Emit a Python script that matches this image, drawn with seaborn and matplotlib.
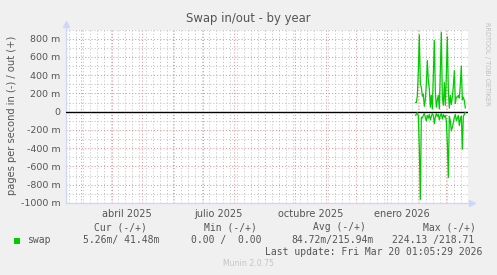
import numpy as np
import pandas as pd
import matplotlib
matplotlib.use("Agg")
import matplotlib.pyplot as plt
import matplotlib.dates as mdates
from matplotlib.ticker import MultipleLocator, FuncFormatter, NullLocator
from matplotlib.patches import Rectangle
import seaborn as sns

# ---------------- data ----------------
title = "Swap in/out - by year"
ylabel = "pages per second in (-) / out (+)"
series_name = "swap"
start_date = "2026-01-29"          # first daily sample
# swap out (plotted positive), pages/s
swap_out = [0.10, 0.10, 0.17, 0.45, 0.84, 0.30, 0.27, 0.17, 0.19, 0.06,
            0.13, 0.30, 0.56, 0.34, 0.25, 0.05, 0.18, 0.03, 0.40, 0.78,
            0.22, 0.05, 0.13, 0.18, 0.03, 0.45, 0.87, 0.15, 0.07, 0.32,
            0.07, 0.40, 0.82, 0.23, 0.04, 0.18, 0.08, 0.16, 0.28, 0.45,
            0.09, 0.16, 0.16, 0.18, 0.15, 0.30, 0.50, 0.13, 0.16, 0.12,
            0.04]
# swap in (plotted negative), pages/s
swap_in = [0.04, 0.03, 0.01, 0.05, 0.40, 0.96, 0.06, 0.07, 0.04, 0.02,
           0.06, 0.10, 0.04, 0.07, 0.03, 0.09, 0.05, 0.02, 0.04, 0.13,
           0.06, 0.02, 0.05, 0.03, 0.09, 0.04, 0.02, 0.08, 0.03, 0.06,
           0.04, 0.10, 0.35, 0.72, 0.05, 0.10, 0.21, 0.17, 0.12, 0.06,
           0.03, 0.10, 0.07, 0.04, 0.15, 0.08, 0.05, 0.41, 0.05, 0.03,
           0.005]
month_names = ["enero", "febrero", "marzo", "abril", "mayo", "junio", "julio",
               "agosto", "septiembre", "octubre", "noviembre", "diciembre"]
legend_headers = ["Cur (-/+)", "Min (-/+)", "Avg (-/+)", "Max (-/+)"]
legend_values = ["5.26m/ 41.48m", "0.00 /  0.00", "84.72m/215.94m", "224.13 /218.71"]
last_update = "Last update: Fri Mar 20 01:05:29 2026"
footer = "Munin 2.0.75"
watermark = "RRDTOOL / TOBI OETIKER"
x_start = "2025-02-13 17:00"
x_end = "2026-03-22 16:00"
y_range = (-1.0, 0.9)

# ---------------- style ----------------
W, H = 497, 275
BG = "#F0F0F0"
TXT = "#555555"
GREEN = "#00CC00"
MGRID = "#E89494"
GRID = "#C4C4C4"
AXIS = "#CFD6F8"

sns.set_theme(style="white")
plt.rcParams["font.family"] = ["DejaVu Sans"]

fig = plt.figure(figsize=(W / 100, H / 100), dpi=100, facecolor=BG)
ax = fig.add_axes([66 / W, 1 - 203 / H, 402 / W, 173.4 / H])
ax.set_facecolor("white")

dates = pd.date_range(start_date, periods=len(swap_out), freq="D")
df = pd.DataFrame({
    "date": list(dates) + list(dates),
    "value": list(swap_out) + [-v for v in swap_in],
    "series": ["out"] * len(swap_out) + ["in"] * len(swap_in),
})
sns.lineplot(data=df, x="date", y="value", hue="series",
             palette={"out": GREEN, "in": GREEN}, legend=False,
             linewidth=0.9, estimator=None, ax=ax, zorder=4)

ax.set_xlim(pd.Timestamp(x_start), pd.Timestamp(x_end))
ax.set_ylim(*y_range)
ax.set_xlabel("")
ax.set_ylabel("")

# grid
ax.yaxis.set_major_locator(MultipleLocator(0.2))
ax.yaxis.set_minor_locator(MultipleLocator(0.1))
ax.xaxis.set_major_locator(mdates.MonthLocator())
ax.xaxis.set_minor_locator(mdates.WeekdayLocator(byweekday=mdates.MO))
ax.grid(which="major", color=MGRID, linestyle=(0, (1, 2)), linewidth=0.75)
ax.grid(which="minor", color=GRID, linestyle=(0, (1, 2)), linewidth=0.75)
ax.set_axisbelow(True)
ax.axhline(0, color="black", linewidth=1.0, zorder=3)

def yfmt(v, pos):
    m = int(round(v * 1000))
    return "0" if m == 0 else f"{m} m"
ax.yaxis.set_major_formatter(FuncFormatter(yfmt))
ax.tick_params(axis="y", which="major", length=2, width=0.7, color=MGRID,
               labelsize=6.8, labelcolor=TXT, pad=2)
ax.tick_params(axis="y", which="minor", length=2, width=0.7, color=GRID)
ax.tick_params(axis="x", which="major", length=2, width=0.7, color=MGRID,
               labelbottom=False)
ax.tick_params(axis="x", which="minor", length=0, labelbottom=False)

for s in ["top", "right"]:
    ax.spines[s].set_visible(False)
for s in ["left", "bottom"]:
    ax.spines[s].set_color(AXIS)
    ax.spines[s].set_linewidth(0.9)
ax.plot([0], [1.035], marker="^", markersize=4, color=AXIS,
        transform=ax.transAxes, clip_on=False)
ax.plot([1.01], [0], marker=">", markersize=4, color=AXIS,
        transform=ax.transAxes, clip_on=False)
ax.plot([1.0, 1.01], [0, 0], color=AXIS, linewidth=0.9,
        transform=ax.transAxes, clip_on=False)
ax.plot([0, 0], [1.0, 1.035], color=AXIS, linewidth=0.9,
        transform=ax.transAxes, clip_on=False)

# month labels centred mid-month
sec = ax.secondary_xaxis("bottom")
sec.xaxis.set_major_locator(mdates.MonthLocator(bymonth=[1, 4, 7, 10], bymonthday=16))
sec.xaxis.set_minor_locator(NullLocator())
def xfmt(v, pos):
    d = mdates.num2date(v)
    return f"{month_names[d.month - 1]} {d.year}"
sec.xaxis.set_major_formatter(FuncFormatter(xfmt))
sec.tick_params(length=0, pad=4, labelsize=7, labelcolor=TXT)
sec.spines["bottom"].set_visible(False)

# texts
def px(x, y):
    return x / W, 1 - y / H

fig.text(*px(248.5, 18.5), title, ha="center", va="center", fontsize=8.4, color=TXT)
fig.text(*px(12, 115), ylabel, rotation=90, ha="center", va="center",
         fontsize=7.1, color=TXT)
fig.text(*px(487, 22), watermark, rotation=270, ha="center", va="top",
         fontsize=4.7, color="#BEBEBE")

mono = "DejaVu Sans Mono"
fs = 7.0
header_x = [94.3, 204, 313, 422.7]
value_x = [83.3, 190.7, 291, 392]
for hx, h in zip(header_x, legend_headers):
    fig.text(*px(hx, 227.5), h, ha="left", va="center", family=mono, fontsize=fs, color=TXT)
fig.add_artist(Rectangle(px(14, 243.5), 6 / W, 6 / H, transform=fig.transFigure,
                         color=GREEN, linewidth=0))
fig.text(*px(27, 240), series_name, ha="left", va="center", family=mono, fontsize=fs, color=TXT)
for vx, v in zip(value_x, legend_values):
    fig.text(*px(vx, 240), v, ha="left", va="center", family=mono, fontsize=fs, color=TXT)
fig.text(*px(482.7, 252), last_update, ha="right", va="center", family=mono,
         fontsize=fs, color=TXT)
fig.text(*px(248, 264), footer, ha="center", va="center", fontsize=5.6, color="#C4C4C4")

fig.savefig("out.png", dpi=100, facecolor=BG)
